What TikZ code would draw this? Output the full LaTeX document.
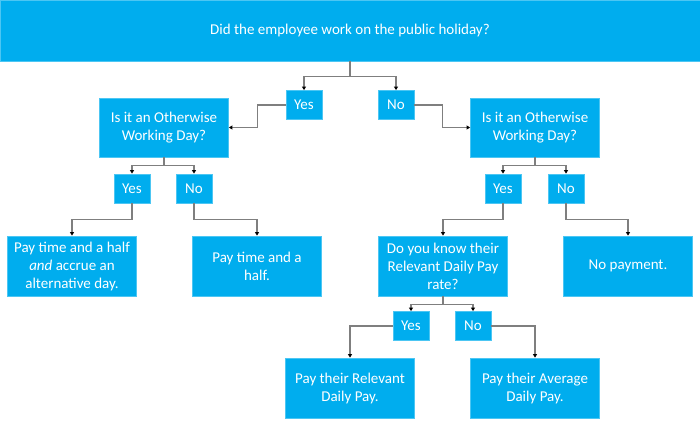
\documentclass[tikz,border=0pt]{standalone}
\usepackage{fontspec}
\setmainfont{Carlito}
\usetikzlibrary{calc,arrows.meta}
\definecolor{boxblue}{HTML}{00ADEE}
\definecolor{boxedge}{HTML}{4CC6F3}
\definecolor{linegray}{HTML}{7F7F7F}

\begin{document}
\begin{tikzpicture}[x=1pt,y=-1pt,
    box/.style={fill=boxblue,draw=boxedge,line width=0.8pt,text=white,align=center,
      inner sep=0pt,font=\fontsize{15}{18}\selectfont},
    big/.style={box,minimum width=129pt,minimum height=59pt},
    small/.style={box,minimum width=36pt,minimum height=29pt},
    conn/.style={linegray,line width=1.1pt,-{Triangle[length=3.5pt,width=4pt,black]}}]
  \useasboundingbox (0,0) rectangle (700,425);

  % question
  \node[box,minimum width=700pt,minimum height=61pt] (top) at (350,30.5)
    {Did the employee work on the public holiday?};

  % first answers
\node[small] (yes1) at (304,105) {Yes};
\node[small] (no1) at (396,105) {No};

% otherwise working day
\node[big] (owdL) at (164,127.5) {Is it an Otherwise\\Working Day?};
\node[big] (owdR) at (535,127.5) {Is it an Otherwise\\Working Day?};

\node[small] (yes2) at (132,188.5) {Yes};
\node[small] (no2) at (194,188.5) {No};
\node[small] (yes3) at (503,188.5) {Yes};
\node[small] (no3) at (566,188.5) {No};

% outcomes
\node[big,minimum height=60pt] (payAlt) at (72,266) {Pay time and a half\\\textit{and} accrue an\\alternative day.};
\node[big,minimum height=60pt] (payHalf) at (257,266) {Pay time and a\\half.};
\node[big,minimum height=60pt] (rdp) at (443,266) {Do you know their\\Relevant Daily Pay\\rate?};
\node[big,minimum height=60pt] (noPay) at (628,266) {No payment.};

\node[small] (yes4) at (411,326) {Yes};
\node[small] (no4) at (473,326) {No};

\node[big,minimum height=60pt] (payRel) at (350,388) {Pay their Relevant\\Daily Pay.};
\node[big,minimum height=60pt] (payAvg) at (535,388) {Pay their Average\\Daily Pay.};

  % connectors
  \draw[conn] (top.south) -- ++(0,15) -| (yes1.north);
  \draw[conn] (top.south) -- ++(0,15) -| (no1.north);
  \draw[conn] (yes1.west) -| ($(yes1.west)!.5!(owdL.east)$) |- (owdL.east);
  \draw[conn] (no1.east) -| ($(no1.east)!.5!(owdR.west)$) |- (owdR.west);
  \foreach \q/\a/\b in {owdL/yes2/no2,owdR/yes3/no3,rdp/yes4/no4}
  {
    \draw[conn] (\q.south) -- ++(0,8.5) -| (\a.north);
    \draw[conn] (\q.south) -- ++(0,8.5) -| (\b.north);
  }
  \draw[conn] (yes2.south) -- ++(0,16.5) -| (payAlt.north);
  \draw[conn] (no2.south) -- ++(0,16.5) -| (payHalf.north);
  \draw[conn] (yes3.south) -- ++(0,16.5) -| (rdp.north);
  \draw[conn] (no3.south) -- ++(0,16.5) -| (noPay.north);
  \draw[conn] (yes4.west) -| (payRel.north);
  \draw[conn] (no4.east) -| (payAvg.north);
\end{tikzpicture}
\end{document}
